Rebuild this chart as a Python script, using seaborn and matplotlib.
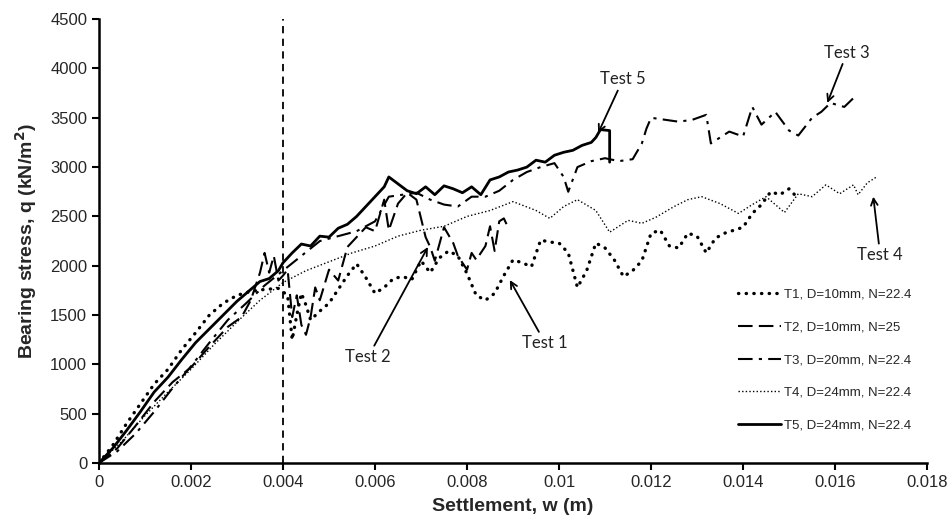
import matplotlib
matplotlib.use("Agg")
import matplotlib.pyplot as plt
from matplotlib.lines import Line2D
import seaborn as sns

# Settlement (m) and bearing stress (kN/m2), one pair of lists per test
t1_w = [0, 0.0003, 0.0006, 0.0009, 0.0012, 0.0015, 0.0018, 0.0021, 0.0024, 0.0027, 0.003, 0.0033, 0.0036, 0.0039,
        0.0041, 0.0042, 0.0043, 0.0044, 0.0045, 0.0046,
        0.0048, 0.005, 0.0052, 0.0054, 0.0056, 0.0058, 0.006, 0.0062, 0.0064, 0.0066, 0.0068, 0.007, 0.0072,
        0.0074, 0.0076, 0.0078, 0.008, 0.0082, 0.0084, 0.0086, 0.0088, 0.009, 0.0092, 0.0094, 0.0096, 0.0098,
        0.01, 0.0102, 0.0104, 0.0106, 0.0108, 0.011, 0.0112, 0.0114, 0.0116, 0.0118, 0.012, 0.0122, 0.0124,
        0.0126, 0.0128, 0.013, 0.0132, 0.0134, 0.0136, 0.0138, 0.014, 0.0142, 0.0144, 0.0146, 0.0148, 0.015, 0.0152]
t1_q = [0, 180, 400, 600, 800, 950, 1150, 1320, 1500, 1620, 1700, 1740, 1760, 1770,
        1700, 1250, 1500, 1720, 1600, 1450,
        1540, 1620, 1760, 1900, 2020, 1880, 1720, 1780, 1870, 1890, 1860, 2050, 1930,
        2080, 2150, 2100, 1920, 1700, 1650, 1720, 1900, 2060, 2030, 1990, 2260, 2240,
        2230, 2130, 1780, 1950, 2230, 2180, 2060, 1890, 1950, 2050, 2330, 2360, 2200,
        2180, 2330, 2300, 2130, 2280, 2330, 2360, 2390, 2530, 2620, 2750, 2720, 2780, 2680]

t2_w = [0, 0.0004, 0.0008, 0.0012, 0.0016, 0.002, 0.0024, 0.0028, 0.0031, 0.0033, 0.0035, 0.0036, 0.0037,
        0.0038, 0.0039, 0.004, 0.0041, 0.0042, 0.0043, 0.0044, 0.0045, 0.0046, 0.0047, 0.0048, 0.005, 0.0052,
        0.0054, 0.0056, 0.0058, 0.006, 0.0062, 0.0063, 0.0065, 0.0067, 0.0069, 0.0071, 0.0072, 0.0073, 0.0075,
        0.0077, 0.0078, 0.008, 0.0081, 0.0082, 0.0084, 0.0085, 0.0086, 0.0087, 0.0088, 0.0089]
t2_q = [0, 150, 380, 620, 820, 970, 1180, 1380, 1480, 1650, 1930, 2130, 1930,
        2100, 1850, 1900, 1960, 1480, 1700, 1400, 1300, 1480, 1780, 1650, 1960, 1850,
        2190, 2290, 2390, 2350, 2670, 2360, 2630, 2740, 2670, 2290, 2190, 2050, 2390,
        2230, 2100, 1960, 2130, 2060, 2200, 2400, 2150, 2450, 2480, 2380]

t3_w = [0, 0.0004, 0.0008, 0.0012, 0.0016, 0.002, 0.0024, 0.0028, 0.0032, 0.0036, 0.004, 0.0044, 0.0048,
        0.0052, 0.0056, 0.006, 0.0063, 0.0066, 0.0069, 0.0072, 0.0075, 0.0078, 0.0081, 0.0084, 0.0087, 0.009,
        0.0093, 0.0096, 0.0099, 0.0101, 0.0102, 0.0104, 0.0107, 0.011, 0.0113, 0.0116, 0.0118, 0.0119, 0.012,
        0.0123, 0.0126, 0.0129, 0.0132, 0.0133, 0.0134, 0.0137, 0.014, 0.0142, 0.0144, 0.0147, 0.015, 0.0152,
        0.0155, 0.0157, 0.0159, 0.0162, 0.0164, 0.0165]
t3_q = [0, 120, 300, 520, 760, 980, 1220, 1450, 1620, 1800, 1950, 2100, 2250,
        2300, 2350, 2450, 2700, 2720, 2740, 2670, 2620, 2600, 2700, 2700, 2760, 2870,
        2950, 3000, 3040, 2900, 2750, 3000, 3060, 3090, 3060, 3080, 3240, 3390, 3500,
        3480, 3460, 3480, 3530, 3240, 3270, 3360, 3310, 3610, 3430, 3560, 3370, 3320,
        3500, 3560, 3650, 3610, 3700, 3680]

t4_w = [0, 0.0005, 0.001, 0.0015, 0.002, 0.0025, 0.003, 0.0035, 0.004, 0.0045, 0.005, 0.0055, 0.006, 0.0065,
        0.007, 0.0075, 0.008, 0.0085, 0.009, 0.0095, 0.0098, 0.0101, 0.0104, 0.0108, 0.0111, 0.0115, 0.0118,
        0.0121, 0.0125, 0.0128, 0.0131, 0.0135, 0.0139, 0.0142, 0.0145, 0.0149, 0.0152, 0.0155, 0.0158, 0.0161,
        0.0164, 0.0165, 0.0167, 0.0169]
t4_q = [0, 220, 480, 720, 950, 1200, 1430, 1650, 1830, 1950, 2040, 2130, 2200, 2300,
        2360, 2400, 2500, 2560, 2650, 2560, 2480, 2600, 2670, 2560, 2340, 2460, 2430,
        2490, 2600, 2670, 2700, 2630, 2530, 2620, 2700, 2540, 2730, 2700, 2820, 2730,
        2820, 2720, 2840, 2900]

t5_w = [0, 0.0003, 0.0006, 0.0009, 0.0012, 0.0015, 0.0018, 0.0021, 0.0024, 0.0027, 0.003, 0.0033, 0.0035,
        0.0037, 0.0039, 0.004, 0.0042, 0.0044, 0.0046, 0.0048, 0.005, 0.0052, 0.0054, 0.0056, 0.0058, 0.006,
        0.0062, 0.0063, 0.0065, 0.0067, 0.0069, 0.0071, 0.0073, 0.0075, 0.0077, 0.0079, 0.0081, 0.0083, 0.0085,
        0.0087, 0.0089, 0.0091, 0.0093, 0.0095, 0.0097, 0.0099, 0.0101, 0.0103, 0.0105, 0.0107, 0.0108, 0.0109,
        0.0111, 0.0111]
t5_q = [0, 150, 330, 520, 720, 870, 1050, 1220, 1360, 1500, 1640, 1760, 1840,
        1870, 1950, 2030, 2130, 2220, 2200, 2300, 2290, 2380, 2420, 2500, 2600, 2700,
        2800, 2900, 2830, 2760, 2730, 2800, 2720, 2810, 2780, 2740, 2800, 2720, 2870,
        2900, 2950, 2970, 3000, 3070, 3050, 3120, 3150, 3170, 3220, 3250, 3300, 3380,
        3370, 3050]

labels = ["T1, D=10mm, N=22.4", "T2, D=10mm, N=25", "T3, D=20mm, N=22.4",
          "T4, D=24mm, N=22.4", "T5, D=24mm, N=22.4"]

sns.set_style("ticks")
plt.rcParams['font.family'] = ['Liberation Sans', 'DejaVu Sans']

fig = plt.figure(figsize=(9.47, 5.31), dpi=100)
ax = fig.add_axes([0.1045, 0.128, 0.8745, 0.836])

# line styles: heavy dots, long dash, dash-dot, fine dots, solid
styles = [
    dict(lw=2.4, dashes=(0.1, 2.2), dash_capstyle='round'),
    dict(lw=1.5, dashes=(7, 3)),
    dict(lw=1.5, dashes=(7, 3, 1.5, 3)),
    dict(lw=1.0, dashes=(1, 1.6)),
    dict(lw=2.0),
]
series = [(t1_w, t1_q), (t2_w, t2_q), (t3_w, t3_q), (t4_w, t4_q), (t5_w, t5_q)]

handles = []
for (w, q), st, lab in zip(series, styles, labels):
    sns.lineplot(x=w, y=q, ax=ax, estimator=None, sort=False, color='black', **st)
    handles.append(Line2D([0], [0], color='black', **st))

# vertical dashed line at w = 0.004
ax.axvline(0.004, color='black', lw=1.3, dashes=(4, 3))

ax.set_xlim(0, 0.018)
ax.set_ylim(0, 4500)
ax.set_xticks([0, 0.002, 0.004, 0.006, 0.008, 0.01, 0.012, 0.014, 0.016, 0.018])
ax.set_xticklabels(['0', '0.002', '0.004', '0.006', '0.008', '0.01', '0.012', '0.014', '0.016', '0.018'])
ax.set_yticks(range(0, 4501, 500))
ax.tick_params(axis='both', labelsize=12, length=5, width=1.5, direction='out', color='black')
for s in ['left', 'bottom']:
    ax.spines[s].set_linewidth(1.8)
    ax.spines[s].set_color('black')
sns.despine(ax=ax)

ax.set_xlabel('Settlement, w (m)', fontsize=14, fontweight='bold', labelpad=6)
ax.set_ylabel('Bearing stress, q (kN/m$^\\mathbf{2}$)', fontsize=14, fontweight='bold', labelpad=8)

leg = ax.legend(handles, labels, loc='upper left', bbox_to_anchor=(0.765, 0.405), frameon=False,
                fontsize=9.5, handlelength=3.3, handletextpad=0.2, labelspacing=1.55, borderaxespad=0)

# annotations with arrows
afont = dict(fontsize=12, family=['Lato', 'DejaVu Sans'], color='#222222', ha='center', va='center')
arrow = dict(arrowstyle='->', color='black', lw=1.3, shrinkA=0, shrinkB=0)
ax.annotate('Test 5', xy=(0.01085, 3345), xytext=(0.01139, 3890), arrowprops=arrow, **afont)
ax.annotate('Test 3', xy=(0.01583, 3650), xytext=(0.01626, 4160), arrowprops=arrow, **afont)
ax.annotate('Test 4', xy=(0.01683, 2700), xytext=(0.01698, 2110), arrowprops=arrow, **afont)
ax.annotate('Test 2', xy=(0.00715, 2190), xytext=(0.00585, 1075), arrowprops=arrow, **afont)
ax.annotate('Test 1', xy=(0.00893, 1855), xytext=(0.0097, 1215), arrowprops=arrow, **afont)

fig.savefig('out.png', dpi=100)
